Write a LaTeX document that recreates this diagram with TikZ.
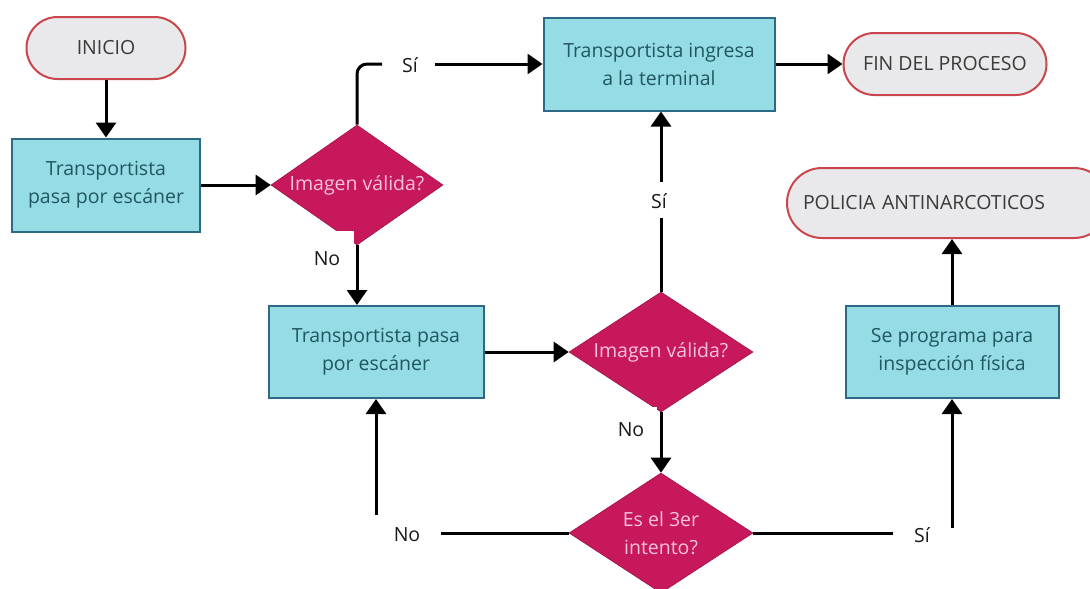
\documentclass[tikz,border=0pt]{standalone}
\usepackage{fontspec}
\setmainfont{Open Sans}
\usetikzlibrary{shapes.geometric,arrows.meta}
\definecolor{boxfill}{HTML}{96DCE5}
\definecolor{boxdraw}{HTML}{2D6A86}
\definecolor{boxtext}{HTML}{1F5762}
\definecolor{dfill}{HTML}{C6185B}
\definecolor{dtext}{HTML}{F6C4D9}
\definecolor{tfill}{HTML}{E9E9EB}
\definecolor{tdraw}{HTML}{C8464C}
\definecolor{ttext}{HTML}{3A3A3A}
\begin{document}
\begin{tikzpicture}[x=1pt,y=-1pt,
  font=\fontsize{19.5}{28}\selectfont,
  proc/.style={rectangle,draw=boxdraw,fill=boxfill,line width=2pt,text=boxtext,align=center,inner sep=0pt},
  term/.style={rectangle,rounded corners=31pt,draw=tdraw,fill=tfill,line width=2pt,text=ttext,align=center,inner sep=0pt},
  dec/.style={diamond,fill=dfill,draw=dfill!80!black,line width=0.6pt,text=dtext,align=center,inner sep=0pt},
  lbl/.style={text=black!90,inner sep=0pt},
  conn/.style={line width=3pt,draw=black},
  arr/.style={conn,-{Triangle[width=20pt,length=15pt]}}]
\useasboundingbox (0,0) rectangle (1090,589);
% nodes
\node[term,minimum width=159,minimum height=62] (ini) at (106,48) {INICIO};
\node[proc,minimum width=188,minimum height=93] (b1) at (106,185) {Transportista\\pasa por escáner};
\node[dec,aspect=1.43,minimum width=172,minimum height=120] (d1) at (357,185) {Imagen válida?};
\node[proc,minimum width=231,minimum height=93] (b3) at (659,64) {Transportista ingresa\\a la terminal};
\node[term,minimum width=203,minimum height=62] (fin) at (945,64) {FIN DEL PROCESO};
\node[term,minimum width=322,minimum height=70,rounded corners=35pt,text width=290,align=left,inner xsep=16pt] (pol) at (948,203) {POLICIA ANTINARCOTICOS};
\node[proc,minimum width=215,minimum height=92] (b2) at (376,352) {Transportista pasa\\por escáner};
\node[dec,aspect=1.53,minimum width=184,minimum height=120] (d2) at (661,352) {Imagen válida?};
\node[dec,aspect=1.53,minimum width=184,minimum height=120] (d3) at (661,533) {Es el 3er\\intento?};
\node[proc,minimum width=213,minimum height=92] (b4) at (952,352) {Se programa para\\inspección física};
% labels
\node[lbl] (si1) at (410,65) {Sí};
\node[lbl] (si2) at (659,201) {Sí};
\node[lbl,fill=white,minimum width=53,minimum height=57] (no1) at (327,259) {No};
\node[lbl,fill=white,minimum width=52,minimum height=46] (no2) at (631,430) {No};
\node[lbl] (no3) at (407,535) {No};
\node[lbl] (si3) at (922,535) {Sí};
% helper coordinates
\coordinate (k1) at (382,64);
\coordinate (k2) at (435,64);
\coordinate (k3) at (661,218);
\coordinate (k4) at (661,182);
\coordinate (k5) at (441,533);
\coordinate (c3) at (376,515);
\coordinate (k6) at (893,533);
\coordinate (c4) at (952,528);
% connectors
\draw[arr] (ini) -- (b1);
\draw[arr] (b1) -- (d1);
\draw[conn,rounded corners=10pt] (d1.north) |- (k1);
\draw[arr] (k2) -- (b3.west|-k2);
\draw[arr] (b3) -- (fin);
\draw[conn] (d2.north) -- (k3);
\draw[arr] (k4) -- (k4|-b3.south);
\draw[arr] (d1.south) -- (d1.south|-b2.north);
\draw[arr] (b2) -- (d2);
\draw[arr] (d2) -- (d3);
\draw[conn] (d3.west) -- (k5);
\draw[arr] (c3) -- (b2.south);
\draw[conn] (d3.east) -- (k6);
\draw[arr] (c4) -- (b4.south);
\draw[arr] (b4.north) -- (b4.north|-pol.south);
\end{tikzpicture}
\end{document}
